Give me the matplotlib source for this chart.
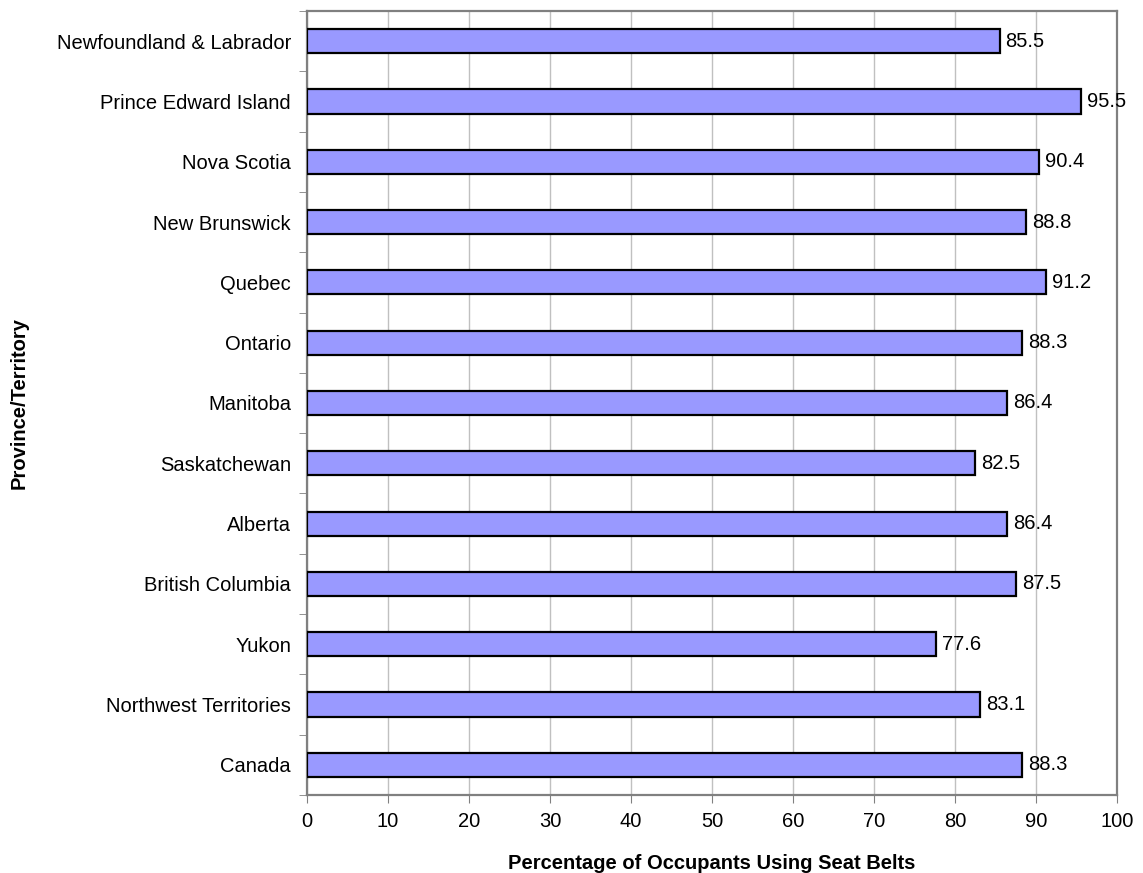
import numpy as np
import matplotlib.pyplot as plt

plt.rcParams['font.family'] = ['Liberation Sans', 'DejaVu Sans']

# data, top to bottom as in the chart
provinces = ['Newfoundland & Labrador', 'Prince Edward Island', 'Nova Scotia',
             'New Brunswick', 'Quebec', 'Ontario', 'Manitoba', 'Saskatchewan',
             'Alberta', 'British Columbia', 'Yukon', 'Northwest Territories', 'Canada']
belt_use = [85.5, 95.5, 90.4, 88.8, 91.2, 88.3, 86.4, 82.5, 86.4, 87.5, 77.6, 83.1, 88.3]
x_ticks = list(range(0, 101, 10))

fig = plt.figure(figsize=(11.43, 8.73), dpi=100)
ax = fig.add_axes([307/1143, 1 - 795/873, (1117-307)/1143, (795-11)/873])

pos = np.arange(len(provinces))[::-1]
ax.barh(pos, belt_use, height=0.4, color='#9999FF', edgecolor='black', linewidth=1.6, zorder=3)

for p, v in zip(pos, belt_use):
    ax.text(v + 0.75, p, f'{v}', va='center', ha='left', fontsize=14.5, zorder=4)

ax.set_xlim(0, 100)
ax.set_ylim(-0.5, len(provinces) - 0.5)
ax.set_xticks(x_ticks)
ax.set_xticklabels([str(t) for t in x_ticks], fontsize=14.5)
ax.set_yticks(pos)
ax.set_yticklabels(provinces, fontsize=14.5)
ax.tick_params(axis='y', length=0, pad=11.5)
ax.set_yticks(np.arange(-0.5, len(provinces)), minor=True)
ax.tick_params(axis='y', which='minor', length=6, color='#808080', direction='out')
ax.tick_params(axis='x', length=6, color='#808080', direction='out', pad=6)

ax.grid(axis='x', color='#C0C0C0', linewidth=1, zorder=0)
ax.set_axisbelow(True)
for s in ax.spines.values():
    s.set_color('#808080')
    s.set_linewidth(1.6)

ax.set_xlabel('Percentage of Occupants Using Seat Belts', fontsize=14.5, fontweight='bold', labelpad=17)
ax.set_ylabel('Province/Territory', fontsize=14.5, fontweight='bold')
ax.yaxis.set_label_coords(-278/810, 0.5)

fig.savefig('out.png', dpi=100)
